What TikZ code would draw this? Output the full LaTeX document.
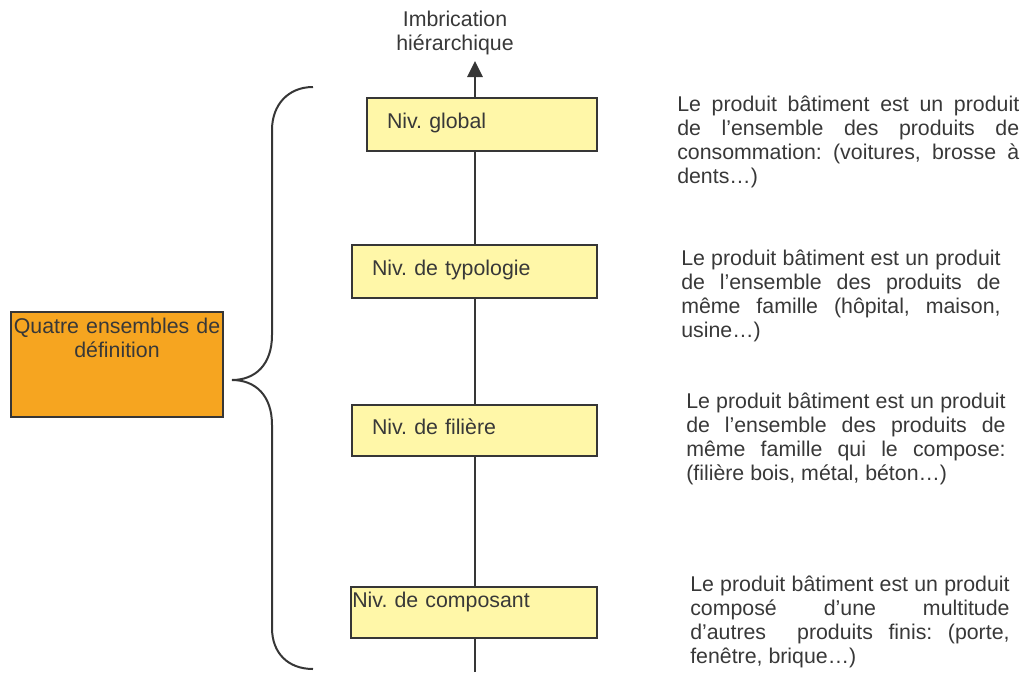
\documentclass[tikz,border=0pt]{standalone}
\usepackage{fontspec}
\setmainfont{Liberation Sans}
\usetikzlibrary{arrows.meta}
\definecolor{boxfill}{HTML}{FFF7A8}
\definecolor{orangebox}{HTML}{F6A520}
\definecolor{linegray}{HTML}{363636}
\definecolor{textgray}{HTML}{383838}
\hyphenpenalty=10000
\tolerance=10000
\frenchspacing

\begin{document}
\begin{tikzpicture}[x=0.75pt, y=-0.75pt,
    every node/.style={font=\fontsize{16}{18}\selectfont, text=textgray},
    niveau/.style={draw=linegray, fill=boxfill, line width=1.5pt, inner xsep=15pt,
        inner ysep=0pt, align=left, text height=12pt, text depth=6pt},
    explication/.style={anchor=base west, inner sep=0pt, align=justify}]

\useasboundingbox (0,0) rectangle (1025,672);

% axe vertical
\coordinate (bas) at (475,672);
\coordinate (sommet) at (475,61);
\draw[line width=1.5pt, linegray, -{Triangle[width=11.5pt, length=12pt]}] (bas) -- (sommet);

\node[align=center, inner sep=0pt, anchor=south] (imbrication) at (455,55)
    {Imbrication\\hiérarchique};

% niveaux
\node[niveau, text width=142.5pt, minimum height=39.75pt] (global) at (482,124.5) {Niv. global};
\node[niveau, text width=153.75pt, minimum height=39.75pt] (typologie) at (474.5,271.5) {Niv. de typologie};
\node[niveau, text width=153.75pt, minimum height=38.25pt] (filiere) at (474.5,430.5) {Niv. de filière};
\node[niveau, inner xsep=1pt, text width=182.5pt, text depth=20.25pt, minimum height=38.25pt]
    (composant) at (474,612.5) {Niv. de composant};

% accolade
\draw[linegray, line width=1.5pt] (313,87) .. controls (288,87) and (272,105) .. (272,130)
    -- (272,335) .. controls (272,365) and (255,380) .. (232,380)
    .. controls (255,380) and (272,395) .. (272,425)
    -- (272,628) .. controls (272,653) and (288,669) .. (313,669);

\node[draw=linegray, fill=orangebox, line width=1.5pt, inner xsep=2pt, inner ysep=0pt,
    text width=155pt, align=center, text height=12pt, text depth=59.25pt,
    minimum height=78.75pt] (quatre) at (117,364.5) {Quatre ensembles de\\définition};

% explications
\node[explication, text width=256.5pt] (txtglobal) at (677,111)
    {Le produit bâtiment est un produit\linebreak de l’ensemble des produits de\linebreak
     consommation: (voitures, brosse à\linebreak dents…)};
\node[explication, text width=239.5pt] (txttypologie) at (681,265)
    {Le produit bâtiment est un produit\linebreak de l’ensemble des produits de\linebreak
     même famille (hôpital, maison,\linebreak usine…)};
\node[explication, text width=239.5pt] (txtfiliere) at (686,408)
    {Le produit bâtiment est un produit\linebreak de l’ensemble des produits de\linebreak
     même famille qui le compose:\linebreak (filière bois, métal, béton…)};
\node[explication, text width=239.5pt] (txtcomposant) at (690,591)
    {Le produit bâtiment est un produit\linebreak composé d’une multitude\linebreak
     d’autres\ \ produits finis: (porte,\linebreak fenêtre, brique…)};

\end{tikzpicture}
\end{document}
